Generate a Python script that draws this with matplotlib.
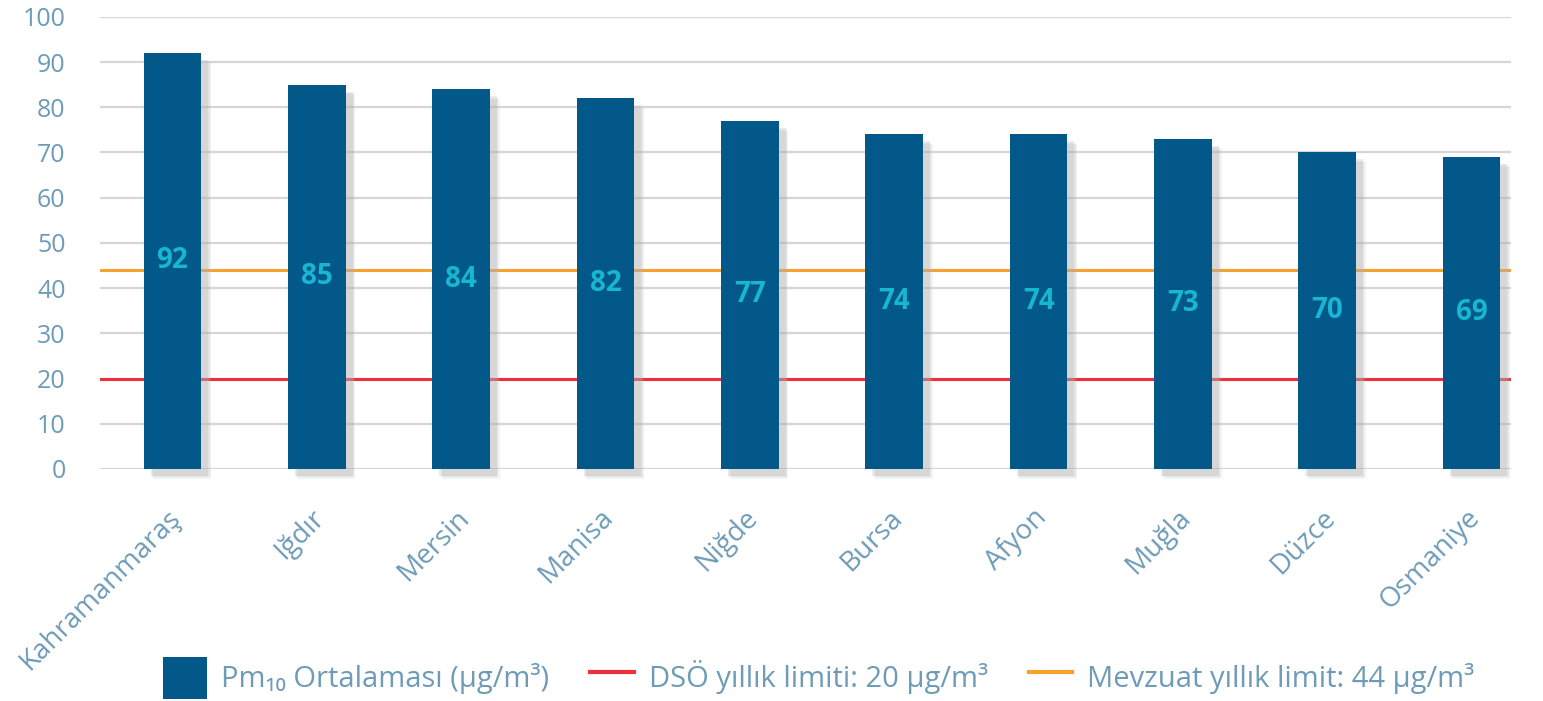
import matplotlib
matplotlib.use("Agg")
import matplotlib.pyplot as plt
import matplotlib.patheffects as pe
import matplotlib.transforms as mtransforms
from matplotlib.patches import Patch
from matplotlib.lines import Line2D
import numpy as np

plt.rcParams['font.family'] = ['Open Sans', 'DejaVu Sans']

# veriler
sehirler = ['Kahramanmaraş', 'Iğdır', 'Mersin', 'Manisa', 'Niğde',
            'Bursa', 'Afyon', 'Muğla', 'Düzce', 'Osmaniye']
pm10 = [92, 85, 84, 82, 77, 74, 74, 73, 70, 69]
dso_limit = 20
mevzuat_limit = 44
y_ticks = [0, 10, 20, 30, 40, 50, 60, 70, 80, 90, 100]

bar_col = '#03588a'
lbl_col = '#17b6d2'
txt_col = '#6d9bb8'
red = '#ee2e3a'
orange = '#f7a12e'

fig = plt.figure(figsize=(15.43, 7.01), dpi=100)
ax = fig.add_axes([0.065, 0.331, 0.914, 0.645])

x = np.arange(len(sehirler))
ax.set_ylim(0, 100)
ax.set_xlim(-0.5, len(sehirler) - 1 + 0.27)
ax.set_yticks(y_ticks)
ax.yaxis.grid(True, color='#d6d6d6', linewidth=1.6)
ax.set_axisbelow(True)

ax.axhline(dso_limit, color=red, linewidth=2.2, zorder=1.5)
ax.axhline(mevzuat_limit, color=orange, linewidth=2.2, zorder=1.5)

bars = ax.bar(x, pm10, width=0.4, color=bar_col, zorder=2, clip_on=False)
shadow = [pe.SimplePatchShadow(offset=(o, -o), shadow_rgbFace='#b0b0b0', alpha=a)
          for o, a in [(7, 0.15), (6, 0.2), (5, 0.25)]]
for b in bars:
    b.set_path_effects(shadow + [pe.Normal()])

for xi, v in zip(x, pm10):
    ax.text(xi, v / 2, str(v), ha='center', va='center', color=lbl_col,
            fontsize=20, fontweight='bold', zorder=3)

for s in ax.spines.values():
    s.set_visible(False)

ax.tick_params(axis='both', length=0, colors=txt_col)
ax.tick_params(axis='y', pad=25, labelsize=18)
ax.set_xticks(x)
ax.set_xticklabels(sehirler, rotation=45, ha='right', rotation_mode='anchor', fontsize=20)
offset = mtransforms.ScaledTranslation(-0.06, -0.3, fig.dpi_scale_trans)
for t in ax.get_xticklabels():
    t.set_transform(t.get_transform() + offset)

handles = [
    Patch(facecolor=bar_col, edgecolor='none'),
    Line2D([0], [0], color=red, linewidth=3),
    Line2D([0], [0], color=orange, linewidth=3),
]
labels = ['Pm₁₀ Ortalaması (µg/m³)', 'DSÖ yıllık limiti: 20 µg/m³', 'Mevzuat yıllık limit: 44 µg/m³']
leg = fig.legend(handles, labels, loc='center', bbox_to_anchor=(0.5305, 0.033), ncol=3,
                 frameon=False, fontsize=21, handlelength=1.5, handleheight=1.85,
                 columnspacing=1.4, handletextpad=0.5)
for t in leg.get_texts():
    t.set_color(txt_col)

fig.savefig('out.png', dpi=100)
